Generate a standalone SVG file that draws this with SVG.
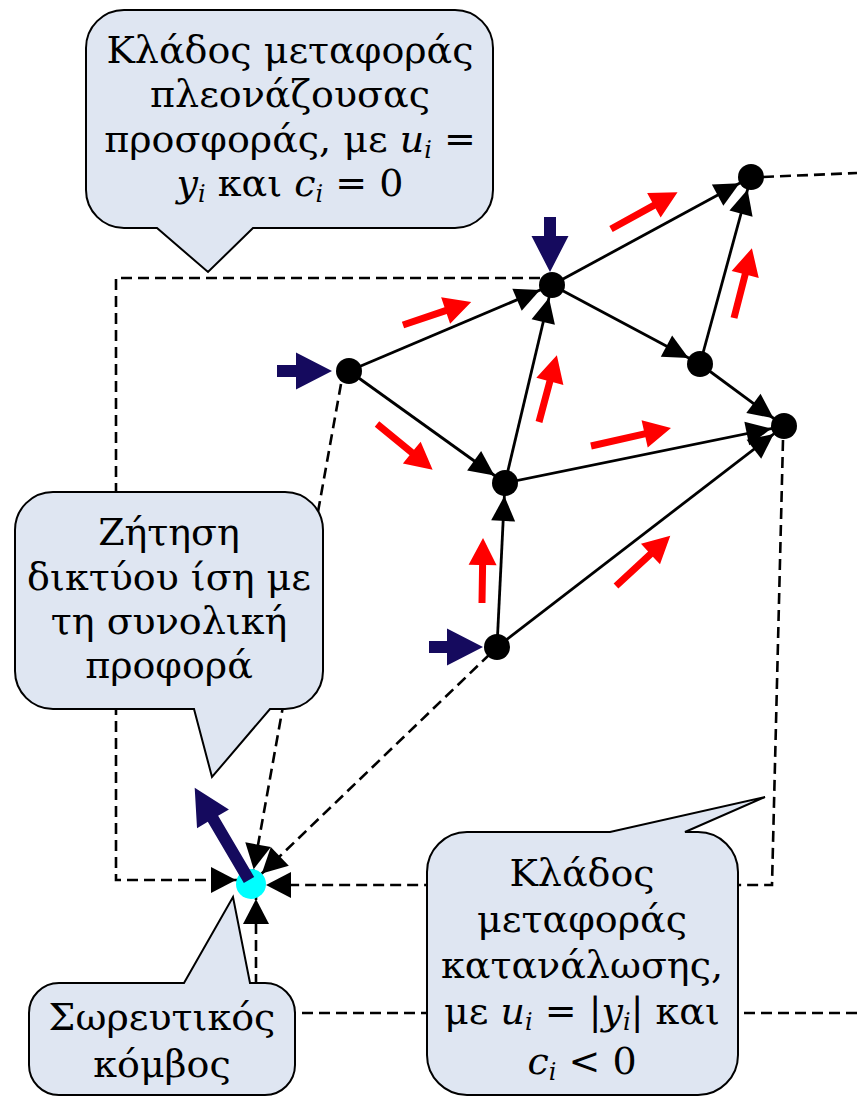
<svg xmlns="http://www.w3.org/2000/svg" width="857" height="1097" viewBox="0 0 857 1097">
<style>
.dash{fill:none;stroke:#000;stroke-width:2.6;stroke-dasharray:11 6}
.edge{fill:none;stroke:#000;stroke-width:2.8}
.call{fill:#dfe6f2;stroke:#000;stroke-width:2}
.red{fill:#ff0000}
.navy{fill:#150a5e}
.node{fill:#000}
.t{font-family:"DejaVu Serif","Liberation Serif",serif;font-size:38px;fill:#000;text-anchor:middle}
.it{font-style:italic}
.sub{font-style:italic;font-size:24px}
</style>
<defs>
<marker id="ah" markerUnits="userSpaceOnUse" markerWidth="26" markerHeight="24" refX="38" refY="12" orient="auto" overflow="visible"><path d="M0,0 L25,12 L0,24 z" fill="#000"/></marker>
<marker id="ahs" markerUnits="userSpaceOnUse" markerWidth="26" markerHeight="26" refX="40" refY="13" orient="auto" overflow="visible"><path d="M0,0 L25,13 L0,26 z" fill="#000"/></marker>
</defs>

<g id="connectors">
<path class="dash" d="M540,278 H116 V880 H251" marker-end="url(#ahs)"/>
<path class="dash" d="M341,384 L251,884" marker-end="url(#ahs)"/>
<path class="dash" d="M490,654 L251,884" marker-end="url(#ahs)"/>
<path class="dash" d="M783,440 L772,885 H251" marker-end="url(#ahs)"/>
<path class="dash" d="M763,177 L857,173"/>
<path class="dash" d="M857,1013 H256 V884" marker-end="url(#ahs)"/>
</g>

<g id="callout-top">
<path class="call" d="M124,10 H455 A38,38 0 0 1 493,48 V190 A38,38 0 0 1 455,228 H253 L208,272 L157,228 H124 A38,38 0 0 1 86,190 V48 A38,38 0 0 1 124,10 Z"/>
<text class="t" x="290" y="63">Κλάδος μεταφοράς</text>
<text class="t" x="290" y="107">πλεονάζουσας</text>
<text class="t" x="290" y="152">προσφοράς, με <tspan class="it">u</tspan><tspan class="sub" dy="6">i</tspan><tspan dy="-6"> =</tspan></text>
<text class="t" x="290" y="196"><tspan class="it">y</tspan><tspan class="sub" dy="6">i</tspan><tspan dy="-6"> και </tspan><tspan class="it">c</tspan><tspan class="sub" dy="6">i</tspan><tspan dy="-6"> = 0</tspan></text>
</g>

<g id="callout-left">
<path class="call" d="M53,492 H285 A38,38 0 0 1 323,530 V671 A38,38 0 0 1 285,709 H270 L212,777 L194,709 H53 A38,38 0 0 1 15,671 V530 A38,38 0 0 1 53,492 Z"/>
<text class="t" x="169" y="545">Ζήτηση</text>
<text class="t" x="169" y="590">δικτύου ίση με</text>
<text class="t" x="169" y="634">τη συνολική</text>
<text class="t" x="169" y="678">προφορά</text>
</g>

<g id="callout-bottom-left">
<path class="call" d="M59,983 H184 L233,897 L250,983 H265 A30,30 0 0 1 295,1013 V1065 A30,30 0 0 1 265,1095 H59 A30,30 0 0 1 29,1065 V1013 A30,30 0 0 1 59,983 Z"/>
<text class="t" x="162" y="1030">Σωρευτικός</text>
<text class="t" x="162" y="1077">κόμβος</text>
</g>

<g id="callout-bottom-right">
<path class="call" d="M467,832 H610 L765,797 L685,832 H698 A40,40 0 0 1 738,872 V1055 A40,40 0 0 1 698,1095 H467 A40,40 0 0 1 427,1055 V872 A40,40 0 0 1 467,832 Z"/>
<text class="t" x="582" y="886">Κλάδος</text>
<text class="t" x="582" y="932">μεταφοράς</text>
<text class="t" x="582" y="978">κατανάλωσης,</text>
<text class="t" x="582" y="1024">με <tspan class="it">u</tspan><tspan class="sub" dy="6">i</tspan><tspan dy="-6"> = |</tspan><tspan class="it">y</tspan><tspan class="sub" dy="6">i</tspan><tspan dy="-6">| και</tspan></text>
<text class="t" x="582" y="1074"><tspan class="it">c</tspan><tspan class="sub" dy="6">i</tspan><tspan dy="-6"> &lt; 0</tspan></text>
</g>

<g id="edges">
<path class="edge" d="M349,371 L552,285" marker-end="url(#ah)"/>
<path class="edge" d="M349,371 L505,483" marker-end="url(#ah)"/>
<path class="edge" d="M505,483 L552,285" marker-end="url(#ah)"/>
<path class="edge" d="M552,285 L751,177" marker-end="url(#ah)"/>
<path class="edge" d="M552,285 L700,364" marker-end="url(#ah)"/>
<path class="edge" d="M700,364 L751,177" marker-end="url(#ah)"/>
<path class="edge" d="M700,364 L784,426" marker-end="url(#ah)"/>
<path class="edge" d="M505,483 L784,426" marker-end="url(#ah)"/>
<path class="edge" d="M497,647 L505,483" marker-end="url(#ah)"/>
<path class="edge" d="M497,647 L784,426" marker-end="url(#ah)"/>
</g>

<g id="flow-arrows">
<polygon class="red" transform="translate(403,325) rotate(-18.7)" points="0,-3.5 45,-3.5 45,-14 72,0 45,14 45,3.5 0,3.5"/>
<polygon class="red" transform="translate(611,229) rotate(-28.9)" points="0,-3.5 49,-3.5 49,-14 76,0 49,14 49,3.5 0,3.5"/>
<polygon class="red" transform="translate(734,318) rotate(-75.6)" points="0,-3.5 45,-3.5 45,-14 72,0 45,14 45,3.5 0,3.5"/>
<polygon class="red" transform="translate(377,424) rotate(39.4)" points="0,-3.5 45,-3.5 45,-14 72,0 45,14 45,3.5 0,3.5"/>
<polygon class="red" transform="translate(539,422) rotate(-75)" points="0,-3.5 42,-3.5 42,-14 69,0 42,14 42,3.5 0,3.5"/>
<polygon class="red" transform="translate(591,446) rotate(-12.7)" points="0,-3.5 55,-3.5 55,-14 82,0 55,14 55,3.5 0,3.5"/>
<polygon class="red" transform="translate(482,603) rotate(-89.1)" points="0,-3.5 38,-3.5 38,-14 65,0 38,14 38,3.5 0,3.5"/>
<polygon class="red" transform="translate(616,586) rotate(-42.8)" points="0,-3.5 47,-3.5 47,-14 74,0 47,14 47,3.5 0,3.5"/>
</g>

<g id="node-S"><circle cx="251" cy="884" r="15" fill="#00ffff"/></g>

<g id="injections">
<polygon class="navy" transform="translate(277,371)" points="0,-6 19,-6 19,-18.5 55,0 19,18.5 19,6 0,6"/>
<polygon class="navy" transform="translate(550,217) rotate(90)" points="0,-6 19,-6 19,-18.5 55,0 19,18.5 19,6 0,6"/>
<polygon class="navy" transform="translate(429,647)" points="0,-6 18,-6 18,-18.5 54,0 18,18.5 18,6 0,6"/>
<polygon class="navy" transform="translate(249,880) rotate(-120.5)" points="0,-6 71,-6 71,-18.5 107,0 71,18.5 71,6 0,6"/>
</g>

<g id="node-A"><circle class="node" cx="349" cy="371" r="13"/></g>
<g id="node-B"><circle class="node" cx="552" cy="285" r="13"/></g>
<g id="node-C"><circle class="node" cx="751" cy="177" r="13"/></g>
<g id="node-D"><circle class="node" cx="700" cy="364" r="13"/></g>
<g id="node-E"><circle class="node" cx="784" cy="426" r="13"/></g>
<g id="node-F"><circle class="node" cx="505" cy="483" r="13"/></g>
<g id="node-G"><circle class="node" cx="497" cy="647" r="13"/></g>
</svg>
